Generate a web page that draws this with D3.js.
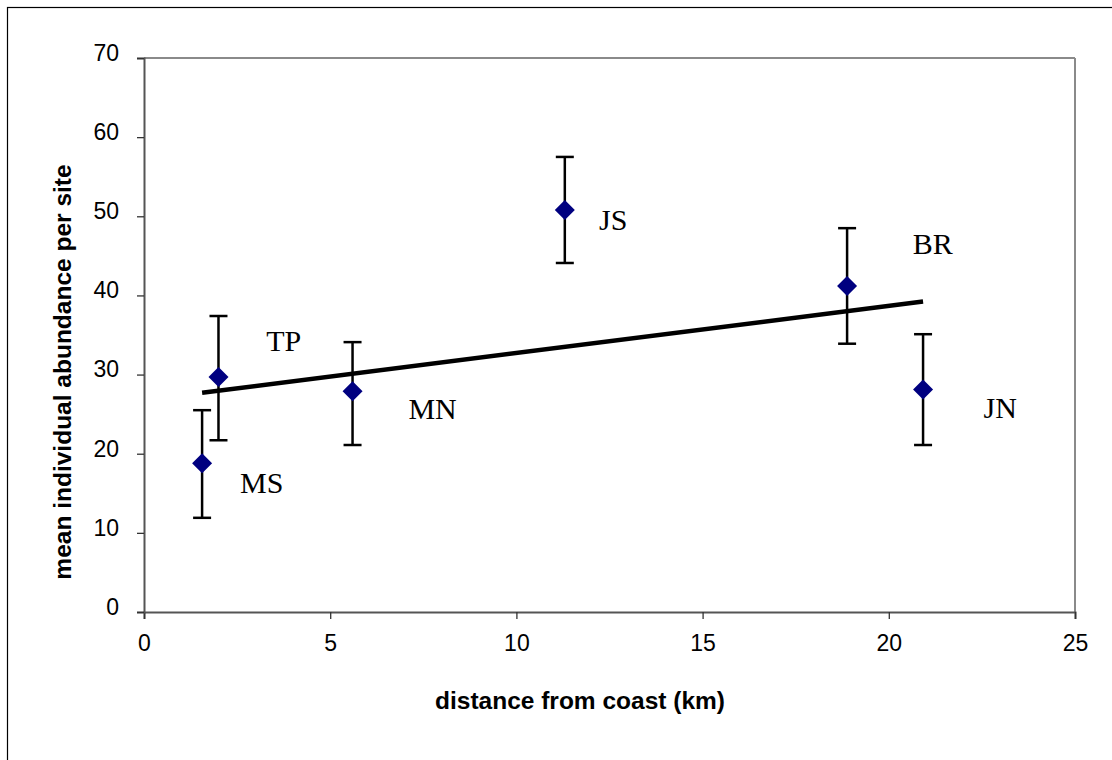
<!DOCTYPE html>
<html>
<head>
<meta charset="utf-8">
<script src="https://cdn.jsdelivr.net/npm/d3@7"></script>
<style>
  html, body { margin: 0; padding: 0; background: #fff; }
  svg { display: block; }
</style>
</head>
<body>
<svg id="chart" width="1112" height="760"></svg>
<script>
// Site data: distance from coast (km), mean abundance, error bar extents
const sites     = ["MS", "TP", "MN", "JS", "BR", "JN"];
const distance  = [1.56, 2.0, 5.6, 11.3, 18.88, 20.92];
const abundance = [18.8, 29.7, 27.9, 50.8, 41.2, 28.1];
const errHigh   = [25.5, 37.4, 34.1, 57.5, 48.5, 35.1];
const errLow    = [11.9, 21.7, 21.1, 44.1, 33.9, 21.1];
// Label offsets (in data units) for the site names
const labelDx   = [1.6, 1.75, 2.15, 1.3, 2.3, 2.07];
const labelDy   = [-2.5, 4.6, -2.2, -1.2, 5.4, -2.3];

const xTicks = [0, 5, 10, 15, 20, 25];
const yTicks = [0, 10, 20, 30, 40, 50, 60, 70];

const svg = d3.select("#chart");
const W = 1112, H = 760;
const m = { left: 144, right: 1075, top: 58, bottom: 612 };

// outer frame
svg.append("rect").attr("x", 7.5).attr("y", 7.5)
  .attr("width", W + 10).attr("height", H + 10)
  .attr("fill", "none").attr("stroke", "#000").attr("stroke-width", 1.2);

const x = d3.scaleLinear().domain([0, 25]).range([m.left, m.right]);
const y = d3.scaleLinear().domain([0, 70]).range([m.bottom, m.top]);

// plot frame: top and right lighter
svg.append("line").attr("x1", m.left).attr("x2", m.right).attr("y1", m.top).attr("y2", m.top)
  .attr("stroke", "#8a8a8a").attr("stroke-width", 2);
svg.append("line").attr("x1", m.right).attr("x2", m.right).attr("y1", m.top).attr("y2", m.bottom)
  .attr("stroke", "#8a8a8a").attr("stroke-width", 2);

// axes
const xAxis = svg.append("g").attr("transform", `translate(0,${m.bottom})`)
  .call(d3.axisBottom(x).tickValues(xTicks).tickSize(7).tickPadding(16).tickFormat(d3.format("d")));
const yAxis = svg.append("g").attr("transform", `translate(${m.left},0)`)
  .call(d3.axisLeft(y).tickValues(yTicks).tickSize(7).tickPadding(18).tickFormat(d3.format("d")));

[xAxis, yAxis].forEach(g => {
  g.select(".domain").attr("stroke", "#555").attr("stroke-width", 2);
  g.selectAll(".tick line").attr("stroke", "#333").attr("stroke-width", 1.3);
  g.selectAll(".tick text").attr("font-family", "Arial, 'Liberation Sans', sans-serif")
    .attr("font-size", 23).attr("fill", "#000");
});
yAxis.selectAll(".tick text").attr("dy", "0.1em");

// axis titles
svg.append("text").attr("x", 580).attr("y", 709)
  .attr("text-anchor", "middle")
  .attr("font-family", "Arial, 'Liberation Sans', sans-serif")
  .attr("font-weight", "bold").attr("font-size", 24.5)
  .text("distance from coast (km)");
svg.append("text")
  .attr("transform", `translate(71,372) rotate(-90)`)
  .attr("text-anchor", "middle")
  .attr("font-family", "Arial, 'Liberation Sans', sans-serif")
  .attr("font-weight", "bold").attr("font-size", 24.5)
  .text("mean individual abundance per site");

// least-squares trend line across the sites
const mx = d3.mean(distance), my = d3.mean(abundance);
const slope = d3.sum(distance, (d, i) => (d - mx) * (abundance[i] - my)) /
              d3.sum(distance, d => (d - mx) * (d - mx));
const icpt = my - slope * mx;
const [x0, x1] = d3.extent(distance);
svg.append("line")
  .attr("x1", x(x0)).attr("y1", y(icpt + slope * x0))
  .attr("x2", x(x1)).attr("y2", y(icpt + slope * x1))
  .attr("stroke", "#000").attr("stroke-width", 4.5);

const data = sites.map((s, i) => ({
  s, dx: distance[i], v: abundance[i], hi: errHigh[i], lo: errLow[i],
  ldx: labelDx[i], ldy: labelDy[i]
}));

// error bars
const eb = svg.append("g").attr("stroke", "#000").attr("stroke-width", 2.5);
data.forEach(d => {
  eb.append("line").attr("x1", x(d.dx)).attr("x2", x(d.dx)).attr("y1", y(d.hi)).attr("y2", y(d.lo));
  eb.append("line").attr("x1", x(d.dx) - 9).attr("x2", x(d.dx) + 9).attr("y1", y(d.hi)).attr("y2", y(d.hi));
  eb.append("line").attr("x1", x(d.dx) - 9).attr("x2", x(d.dx) + 9).attr("y1", y(d.lo)).attr("y2", y(d.lo));
});

// diamond markers
svg.append("g").selectAll("path").data(data).join("path")
  .attr("d", "M0,-10L10,0L0,10L-10,0Z")
  .attr("transform", d => `translate(${x(d.dx)},${y(d.v)})`)
  .attr("fill", "#000080");

// site names
svg.append("g").selectAll("text").data(data).join("text")
  .attr("x", d => x(d.dx + d.ldx))
  .attr("y", d => y(d.v + d.ldy))
  .attr("text-anchor", "middle")
  .attr("dy", "0.35em")
  .attr("font-family", "'Times New Roman', 'Liberation Serif', serif")
  .attr("font-size", 30)
  .text(d => d.s);
</script>
</body>
</html>
